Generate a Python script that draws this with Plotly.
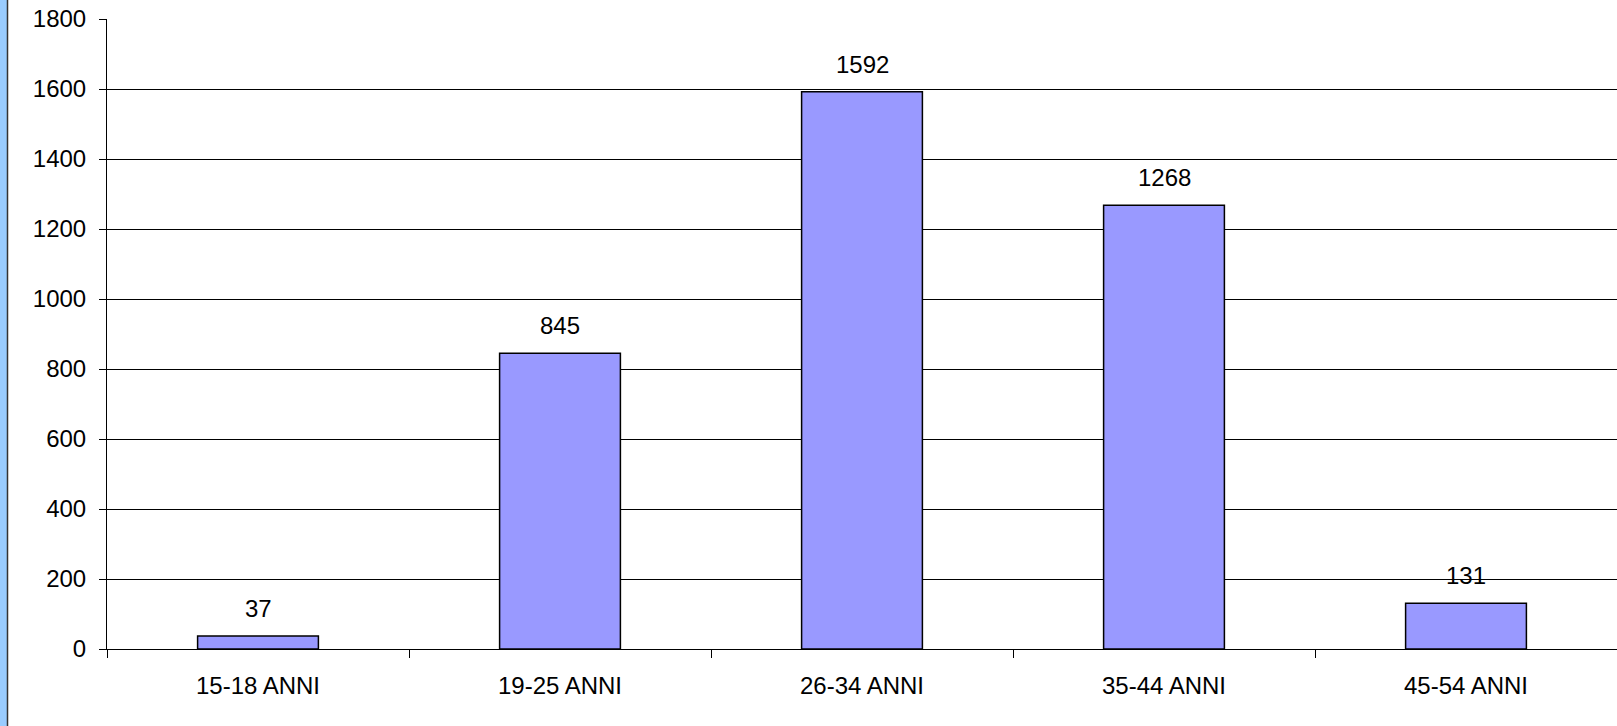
import plotly.graph_objects as go

categories = ["15-18 ANNI", "19-25 ANNI", "26-34 ANNI", "35-44 ANNI", "45-54 ANNI"]
values = [37, 845, 1592, 1268, 131]
y_ticks = [0, 200, 400, 600, 800, 1000, 1200, 1400, 1600, 1800]

W, H = 1617, 726
L, R, T, B = 107, 0, 19, 77
pw, ph = W - L - R, H - T - B

FONT = "Liberation Sans, Arial, sans-serif"
FS = 24

fig = go.Figure()
fig.add_trace(go.Bar(
    x=categories, y=values,
    width=0.4,
    marker=dict(color="#9999FF", line=dict(color="#000000", width=1.5)),
    hoverinfo="x+y",
))

for c, v in zip(categories, values):
    fig.add_annotation(x=c, y=v, text=str(v), showarrow=False, yanchor="bottom",
                       yshift=12, font=dict(family=FONT, size=FS, color="#000000"))

# left blue strip
fig.add_shape(type="rect", xref="paper", yref="paper",
              x0=(0 - L) / pw, x1=(7 - L) / pw,
              y0=-(B) / ph, y1=1 + T / ph,
              fillcolor="#99CCFF", line=dict(width=0), layer="above")
fig.add_shape(type="line", xref="paper", yref="paper",
              x0=(7.5 - L) / pw, x1=(7.5 - L) / pw,
              y0=-(B) / ph, y1=1 + T / ph,
              line=dict(color="#333333", width=1.5))

fig.update_layout(
    width=W, height=H,
    margin=dict(l=L, r=R, t=T, b=B, pad=0),
    paper_bgcolor="#FFFFFF", plot_bgcolor="#FFFFFF",
    showlegend=False,
    bargap=0.6,
    font=dict(family=FONT, size=FS, color="#000000"),
    xaxis=dict(
        type="category", tickson="boundaries", ticks="outside", ticklen=8,
        tickcolor="#000000", tickwidth=1, showline=True, linecolor="#000000",
        linewidth=1, showgrid=False, ticklabelstandoff=15,
        tickfont=dict(family=FONT, size=FS, color="#000000"),
    ),
    yaxis=dict(
        range=[0, 1800], tickvals=y_ticks, ticks="outside", ticklen=7,
        tickcolor="#000000", tickwidth=1, showline=True, linecolor="#000000",
        linewidth=1, showgrid=True, gridcolor="#000000", gridwidth=1,
        zeroline=False, ticklabelstandoff=8,
        tickfont=dict(family=FONT, size=FS, color="#000000"),
    ),
)

fig.write_html("out.html", config={"displayModeBar": False},
               post_script="document.body.style.margin='0px';document.body.style.overflow='hidden';")
